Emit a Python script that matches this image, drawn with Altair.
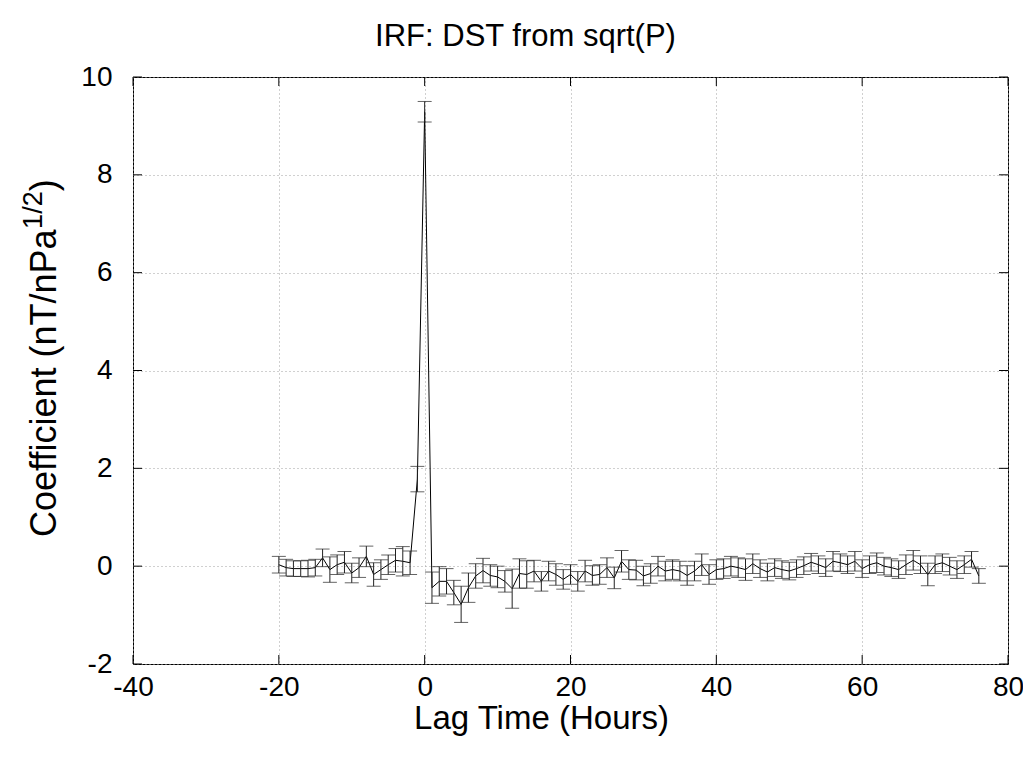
import altair as alt
import pandas as pd

lag = list(range(-20, 77))
coef = [0.03, -0.03, -0.05, -0.05, -0.05, -0.03, 0.17, -0.07, 0.03, 0.08,
        -0.14, -0.03, 0.20, -0.17, -0.07, 0.03, 0.12, 0.10, 0.07, 1.78,
        9.29,
        -0.44, -0.31, -0.31, -0.54, -0.78, -0.44, -0.20, -0.09, -0.19, -0.22,
        -0.31, -0.46, -0.15, -0.17, -0.10, -0.31, -0.10, -0.17, -0.27, -0.17,
        -0.31, -0.10, -0.19, -0.17, -0.03, -0.24, 0.10, -0.07, -0.08, -0.20,
        -0.15, 0.00, -0.10, -0.07, -0.10, -0.19, -0.10, 0.03, -0.17, -0.07,
        -0.05, 0.00, -0.03, -0.07, 0.05, -0.05, -0.12, -0.03, -0.07, -0.10,
        -0.05, 0.01, 0.08, 0.03, -0.03, 0.10, 0.07, 0.03, 0.10, -0.05,
        0.03, 0.07, 0.00, -0.03, -0.07, 0.03, 0.12, 0.03, -0.17, 0.03,
        0.07, 0.00, -0.07, 0.03, 0.14, -0.20]
err = [0.17, 0.17, 0.16, 0.16, 0.17, 0.17, 0.18, 0.26, 0.20, 0.22,
       0.20, 0.20, 0.21, 0.24, 0.20, 0.20, 0.24, 0.30, 0.24, 0.26,
       0.21,
       0.32, 0.30, 0.26, 0.25, 0.37, 0.30, 0.25, 0.25, 0.22, 0.22,
       0.22, 0.40, 0.30, 0.28, 0.22, 0.20, 0.20, 0.22, 0.20, 0.20,
       0.20, 0.22, 0.20, 0.20, 0.20, 0.22, 0.22, 0.20, 0.20, 0.20,
       0.20, 0.20, 0.20, 0.20, 0.20, 0.20, 0.20, 0.22, 0.20, 0.20,
       0.20, 0.20, 0.20, 0.22, 0.20, 0.18, 0.18, 0.18, 0.18, 0.18,
       0.18, 0.18, 0.18, 0.18, 0.18, 0.20, 0.18, 0.18, 0.20, 0.18,
       0.18, 0.20, 0.18, 0.18, 0.18, 0.20, 0.20, 0.18, 0.23, 0.18,
       0.18, 0.18, 0.18, 0.18, 0.16, 0.15]

x_ticks = [-40, -20, 0, 20, 40, 60, 80]
y_ticks = [-2, 0, 2, 4, 6, 8, 10]

df = pd.DataFrame({"lag": lag, "coef": coef, "err": err})
df["lo"] = df["coef"] - df["err"]
df["hi"] = df["coef"] + df["err"]

W, H = 875, 587
FONT = "Liberation Sans"

xs = alt.Scale(domain=[-40, 80], nice=False, zero=False)
ys = alt.Scale(domain=[-2, 10], nice=False, zero=False)

xaxis = alt.Axis(values=x_ticks, grid=True, gridColor="#a0a0a0", gridDash=[1, 3],
                 ticks=False, domain=False, labelFont=FONT, labelFontSize=28,
                 labelColor="black", labelPadding=9, labelFlush=False,
                 labelExpr="'' + datum.value",
                 title="Lag Time (Hours)",
                 titleFont=FONT, titleFontSize=33, titleFontWeight="normal",
                 titleColor="black", titleX=408, titleY=64, titleBaseline="alphabetic")
yaxis = alt.Axis(values=y_ticks, grid=True, gridColor="#a0a0a0", gridDash=[1, 3],
                 ticks=False, domain=False, labelFont=FONT, labelFontSize=28,
                 labelColor="black", labelPadding=21, labelFlush=False,
                 labelExpr="'' + datum.value", title=None)

base = alt.Chart(df)

line = base.mark_line(color="black", strokeWidth=1).encode(
    x=alt.X("lag:Q", scale=xs, axis=xaxis),
    y=alt.Y("coef:Q", scale=ys, axis=yaxis),
)
bars = base.mark_rule(color="#222222", strokeWidth=1).encode(
    x="lag:Q", y="lo:Q", y2="hi:Q"
)
cap_lo = base.mark_tick(color="#222222", orient="horizontal", size=14, thickness=1).encode(
    x="lag:Q", y="lo:Q"
)
cap_hi = base.mark_tick(color="#222222", orient="horizontal", size=14, thickness=1).encode(
    x="lag:Q", y="hi:Q"
)

xt = pd.DataFrame({"t": x_ticks})
yt = pd.DataFrame({"t": y_ticks})
xtick_b = alt.Chart(xt).mark_rule(color="black", strokeWidth=1).encode(
    x="t:Q", y=alt.value(H), y2=alt.value(H - 9))
xtick_t = alt.Chart(xt).mark_rule(color="black", strokeWidth=1).encode(
    x="t:Q", y=alt.value(0), y2=alt.value(9))
ytick_l = alt.Chart(yt).mark_rule(color="black", strokeWidth=1).encode(
    y="t:Q", x=alt.value(0), x2=alt.value(9))
ytick_r = alt.Chart(yt).mark_rule(color="black", strokeWidth=1).encode(
    y="t:Q", x=alt.value(W), x2=alt.value(W - 9))

one = pd.DataFrame({"a": [0]})
MAIN = 36
SUP = 27
main_len = 8.559 * MAIN
sup_len = 1.39 * SUP
ylab_main = alt.Chart(one).mark_text(
    angle=270, align="left", baseline="alphabetic", font=FONT, fontSize=MAIN, color="black"
).encode(x=alt.value(-77), y=alt.value(460), text=alt.value("Coefficient (nT/nPa"))
ylab_sup = alt.Chart(one).mark_text(
    angle=270, align="left", baseline="alphabetic", font=FONT, fontSize=SUP, color="black"
).encode(x=alt.value(-91), y=alt.value(460 - main_len), text=alt.value("1/2"))
ylab_close = alt.Chart(one).mark_text(
    angle=270, align="left", baseline="alphabetic", font=FONT, fontSize=MAIN, color="black"
).encode(x=alt.value(-77), y=alt.value(460 - main_len - sup_len), text=alt.value(")"))

chart = alt.layer(
    line, bars, cap_lo, cap_hi, xtick_b, xtick_t, ytick_l, ytick_r,
    ylab_main, ylab_sup, ylab_close
).properties(
    width=W, height=H,
    title=alt.Title("IRF: DST from sqrt(P)", font=FONT, fontSize=31,
                    fontWeight="normal", color="black", dx=-45, offset=10),
    padding={"left": 125, "top": 69, "right": 15, "bottom": 97},
    autosize=alt.AutoSizeParams(type="none"),
).configure_view(stroke="black", strokeWidth=1)

chart.save("out.html", embed_options={"renderer": "svg", "actions": False})
